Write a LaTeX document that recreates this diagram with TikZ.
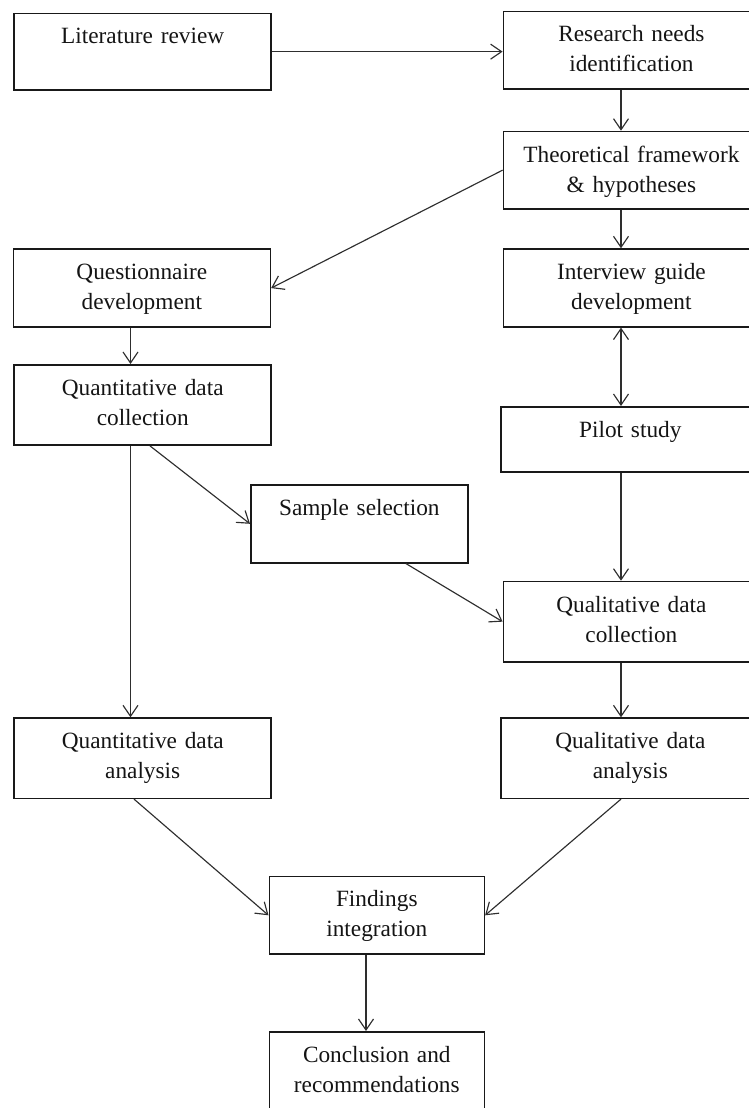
\documentclass[tikz,border=0pt]{standalone}
\usepackage{fontspec}
\setmainfont{Liberation Serif}
\usetikzlibrary{arrows.meta,calc}
\begin{document}
\begin{tikzpicture}[x=1pt,y=-1pt,
  stepbox/.style={draw=black!90, line width=1.6pt, inner sep=0pt, anchor=north west,
                  minimum width=257pt, minimum height=#1},
  txt/.style={font=\fontsize{23.3}{30}\selectfont, text width=250pt, align=center,
              anchor=base, inner sep=0pt, text=black!92},
  conn/.style={draw=black!82, line width=1.15pt, -{Straight Barb[length=11pt,width=15pt]}},
  biconn/.style={draw=black!82, line width=1.15pt, {Straight Barb[length=11pt,width=15pt]}-{Straight Barb[length=11pt,width=15pt]}}
]
\useasboundingbox (0,0) rectangle (749,1108);
\clip (0,0) rectangle (749,1108);

% boxes
\node[stepbox=76.3pt] (lit) at (13.4,12.7) {};
\node[stepbox=77.3pt, minimum width=256pt] (research) at (502.6,10.7) {};
\node[stepbox=77.3pt, minimum width=256pt] (theo) at (502.6,130.7) {};
\node[stepbox=78pt] (quest) at (12.5,248.3) {};
\node[stepbox=77.7pt, minimum width=256pt] (guide) at (502.6,248.3) {};
\node[stepbox=80.3pt] (qncoll) at (13.4,364) {};
\node[stepbox=65pt, minimum width=259pt] (pilot) at (500,406) {};
\node[stepbox=78pt, minimum width=217pt] (sample) at (250,484) {};
\node[stepbox=80.3pt, minimum width=256pt] (qlcoll) at (502.6,580.7) {};
\node[stepbox=80.2pt] (qnanal) at (13.4,717.3) {};
\node[stepbox=80.2pt, minimum width=259pt] (qlanal) at (500,717.3) {};
\node[stepbox=77.6pt, minimum width=215pt] (find) at (268.5,875.7) {};
\node[stepbox=82pt, minimum width=215pt] (concl) at (268.5,1031) {};

% labels
\node[txt] (litT) at ($(lit.north)+(0,31)$) {Literature review};
\node[txt] (researchT) at ($(research.north)+(0,31)$) {Research needs\\identification};
\node[txt] (theoT) at ($(theo.north)+(0,31.5)$) {Theoretical framework\\\& hypotheses};
\node[txt] (questT) at ($(quest.north)+(0,31.5)$) {Questionnaire\\development};
\node[txt] (guideT) at ($(guide.north)+(0,31.5)$) {Interview guide\\development};
\node[txt] (qncollT) at ($(qncoll.north)+(0,31)$) {Quantitative data\\collection};
\node[txt] (pilotT) at ($(pilot.north)+(0,31)$) {Pilot study};
\node[txt] (sampleT) at ($(sample.north)+(0,31)$) {Sample selection};
\node[txt] (qlcollT) at ($(qlcoll.north)+(0,32)$) {Qualitative data\\collection};
\node[txt] (qnanalT) at ($(qnanal.north)+(0,31)$) {Quantitative data\\analysis};
\node[txt] (qlanalT) at ($(qlanal.north)+(0,31)$) {Qualitative data\\analysis};
\node[txt] (findT) at ($(find.north)+(0,31)$) {Findings\\integration};
\node[txt] (conclT) at ($(concl.north)+(0,31)$) {Conclusion and\\recommendations};

% connector columns
\coordinate (rc) at (621,0);
\coordinate (lc) at (130.5,0);
\coordinate (fc) at (366,0);
\coordinate (qs) at (150,0);
\coordinate (ss) at (406,0);
\coordinate (as) at (134,0);

% connectors
\draw[conn] (lit.east) -- (lit.east -| research.west);
\draw[conn] (rc |- research.south) -- (rc |- theo.north);
\draw[conn] (theo.west) -- (quest.east);
\draw[conn] (rc |- theo.south) -- (rc |- guide.north);
\draw[conn] (lc |- quest.south) -- (lc |- qncoll.north);
\draw[biconn] (rc |- guide.south) -- (rc |- pilot.north);
\draw[conn] (qs |- qncoll.south) -- (sample.west);
\draw[conn] (ss |- sample.south) -- (qlcoll.west);
\draw[conn] (rc |- pilot.south) -- (rc |- qlcoll.north);
\draw[conn] (lc |- qncoll.south) -- (lc |- qnanal.north);
\draw[conn] (rc |- qlcoll.south) -- (rc |- qlanal.north);
\draw[conn] (as |- qnanal.south) -- (find.west);
\draw[conn] (rc |- qlanal.south) -- (find.east);
\draw[conn] (fc |- find.south) -- (fc |- concl.north);
\end{tikzpicture}
\end{document}
